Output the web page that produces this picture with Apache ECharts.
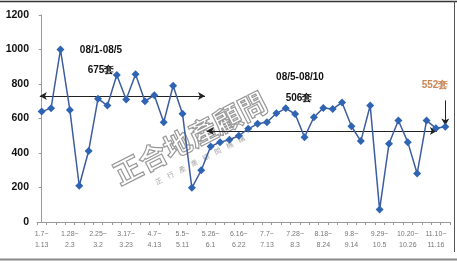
<!DOCTYPE html>
<html><head><meta charset="utf-8">
<script src="https://cdn.jsdelivr.net/npm/echarts@6/dist/echarts.min.js"></script>
<style>html,body{margin:0;padding:0;background:#fff}#c{width:457px;height:264px}</style>
</head><body><div id="c"></div>
<script>
var weeks = ["1.7~1.13","1.14~1.20","1.21~1.27","1.28~2.3","2.4~2.10","2.18~2.24","2.25~3.2","3.3~3.9","3.10~3.16","3.17~3.23","3.24~3.30","3.31~4.6","4.7~4.13","4.14~4.20","4.21~4.27","5.5~5.11","5.12~5.18","5.19~5.25","5.26~6.1","6.2~6.8","6.9~6.15","6.16~6.22","6.23~6.29","6.30~7.6","7.7~7.13","7.14~7.20","7.21~7.27","7.28~8.3","8.4~8.10","8.11~8.17","8.18~8.24","8.25~8.31","9.1~9.7","9.8~9.14","9.15~9.21","9.22~9.28","9.29~10.5","10.6~10.12","10.13~10.19","10.20~10.26","10.27~11.2","11.3~11.9","11.10~11.16","11.17~11.23"];
var sales = [640,660,1000,650,210,412,715,675,852,710,857,700,735,578,790,628,198,300,438,463,477,500,540,569,578,630,659,626,492,607,661,655,693,555,469,675,72,454,588,463,281,588,544,552];
var yTicks = [0,200,400,600,800,1000,1200];
// annotation lines: [startIndex, endIndex, level]
var period1 = [-0.2, 17.4, 730];
var period2 = [17.6, 42.1, 527];
var lastArrow = [43, 705, 560];
var labels = {p1: "08/1-08/5", p1v: "675套", p2: "08/5-08/10", p2v: "506套", last: "552套"};

var chart = echarts.init(document.getElementById('c'));
chart.setOption({
  animation:false,
  backgroundColor:'#fff',
  grid:{left:37,right:7,top:15,bottom:42,containLabel:false},
  xAxis:[{
    type:'category', data:weeks, boundaryGap:true,
    axisLine:{lineStyle:{color:'#999',width:1}},
    axisTick:{show:true,interval:0,length:3,lineStyle:{color:'#999'}},
    axisLabel:{interval:2,color:'#777',fontSize:7,fontFamily:'Arial',lineHeight:11,margin:7,
      formatter:function(v){return v.replace('~','~\n');}}
  },{
    type:'value', min:-0.5, max:43.5, show:false
  }],
  yAxis:{
    type:'value', min:yTicks[0], max:yTicks[yTicks.length-1], interval:200,
    axisLine:{show:true,lineStyle:{color:'#999'}},
    axisTick:{show:true,length:3,inside:false,lineStyle:{color:'#999'}},
    splitLine:{show:false},
    axisLabel:{color:'#111',fontSize:10.5,fontWeight:'bold',fontFamily:'Arial',margin:8,
      formatter:function(v){return String(v);}}
  },
  graphic:[
    {type:'text',z:-10,silent:true,x:190,y:138,rotation:0.47,
      style:{text:'正合地產顧問',fontSize:28,fontWeight:'bold',fontFamily:'Noto Sans CJK TC',
        fill:'rgba(255,255,255,0)',stroke:'#999',lineWidth:1.2,textAlign:'center',textVerticalAlign:'middle'}},
    {type:'text',z:-10,silent:true,x:200,y:160,rotation:0.47,
      style:{text:'正    行    產    業    顧    問    機    構',fontSize:7,fontFamily:'Noto Sans CJK TC',
        fill:'#aaa',textAlign:'center',textVerticalAlign:'middle'}},
    {type:'text',x:101,y:50,style:{text:labels.p1,font:'bold 10px Arial',fill:'#111',textAlign:'center',textVerticalAlign:'middle'}},
    {type:'text',x:101,y:70,style:{text:labels.p1v,font:'bold 10px Arial',fill:'#111',textAlign:'center',textVerticalAlign:'middle'}},
    {type:'text',x:300,y:77,style:{text:labels.p2,font:'bold 10px Arial',fill:'#111',textAlign:'center',textVerticalAlign:'middle'}},
    {type:'text',x:299,y:98,style:{text:labels.p2v,font:'bold 10px Arial',fill:'#111',textAlign:'center',textVerticalAlign:'middle'}},
    {type:'text',x:435,y:85,style:{text:labels.last,font:'bold 10px Arial',fill:'#c98556',textAlign:'center',textVerticalAlign:'middle'}},
    {type:'line',shape:{x1:0,y1:1.5,x2:457,y2:1.5},style:{stroke:'#333',lineWidth:1.5}},
    {type:'line',shape:{x1:454.5,y1:1,x2:454.5,y2:252},style:{stroke:'#555',lineWidth:1}},
    {type:'line',shape:{x1:0,y1:259.5,x2:457,y2:259.5},style:{stroke:'#888',lineWidth:2}}
  ],
  series:[{
    type:'line', data:sales, z:5,
    symbol:'diamond', symbolSize:8, showSymbol:true, showAllSymbol:true,
    lineStyle:{color:'#3d5d9e',width:1.5},
    itemStyle:{color:'#2f64b3'}
  },{
    type:'line', xAxisIndex:1, data:[], z:4,
    markLine:{silent:true,symbol:['arrow','arrow'],symbolSize:[6,7],
      label:{show:false},
      lineStyle:{color:'#222',width:1,type:'solid'},
      data:[
        [{coord:[period1[0],period1[2]]},{coord:[period1[1],period1[2]]}],
        [{coord:[period2[0],period2[2]]},{coord:[period2[1],period2[2]]}],
        [{coord:[lastArrow[0],lastArrow[1]],symbol:'none'},{coord:[lastArrow[0],lastArrow[2]],symbol:'arrow'}]
      ]}
  }]
});
</script></body></html>
